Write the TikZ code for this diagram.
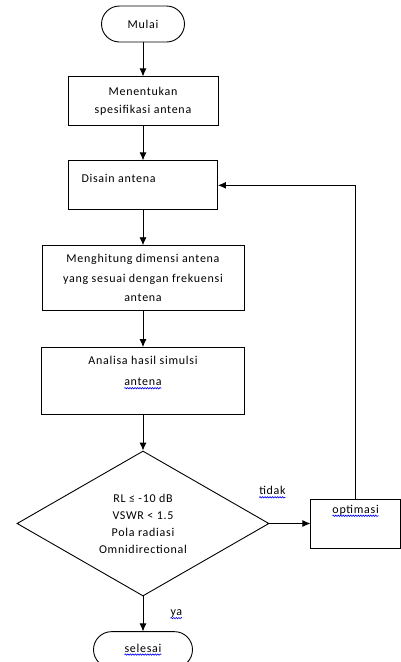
\documentclass[tikz,border=0pt]{standalone}
\usepackage{fontspec}
\setmainfont[LetterSpace=6]{Carlito}
\usetikzlibrary{shapes.geometric,positioning,decorations.pathmorphing,arrows.meta}
\newcommand\spell[1]{\tikz[baseline=(sp.base),sharp corners,-]{\node[shape=rectangle,draw=none,
 minimum width=0pt,minimum height=0pt,inner sep=0pt,outer sep=0pt] (sp) {#1};
 \draw[blue,line width=0.6pt,decorate,decoration={snake,amplitude=0.7pt,segment length=2.5pt}]
 ([yshift=-2.5pt]sp.base west) -- ([yshift=-2.5pt]sp.base east);}}

\begin{document}
\begin{tikzpicture}[x=1pt,y=1pt,line width=0.9pt,>={Latex[length=8pt,width=7pt]},
 every node/.style={font=\fontsize{12}{18}\selectfont},
 terminal/.style={draw,rounded corners=18pt,minimum width=83pt,minimum height=36pt,inner sep=0pt},
 process/.style={draw,align=center,inner sep=0pt},
 decision/.style={draw,diamond,aspect=1.74,minimum width=252pt,minimum height=145pt,
 inner sep=0pt,align=center,font=\fontsize{12}{17}\selectfont},
 lbl/.style={inner sep=1pt}]
 \useasboundingbox (0,0) rectangle (401,-662);

  \node[terminal] (mulai) at (143,-24) {Mulai};
  \node[process,minimum width=150pt,minimum height=49pt,below=34pt of mulai] (spesifikasi)
   {Menentukan\\spesifikasi antena};
  \node[process,minimum width=149pt,minimum height=49pt,below=34pt of spesifikasi] (disain)
   {\parbox[c][23pt][t]{123pt}{\raggedright Disain antena}};
  \node[process,minimum width=202pt,minimum height=65pt,below=35pt of disain,
   font=\fontsize{12}{19.5}\selectfont] (dimensi)
   {Menghitung dimensi antena\\yang sesuai dengan frekuensi\\antena};
  \node[process,minimum width=203pt,minimum height=67pt,below=36pt of dimensi,
   font=\fontsize{12}{21}\selectfont] (analisa)
   {\parbox[c][49pt][t]{203pt}{\centering Analisa hasil simulsi\\\spell{antena}}};
  \node[decision,below=36pt of analisa] (keputusan)
   {RL ≤ -10 dB\\VSWR < 1.5\\Pola radiasi\\Omnidirectional};
  \node[process,minimum width=90pt,minimum height=49pt,right=41pt of keputusan] (optimasi)
   {\parbox[c][37pt][t]{90pt}{\centering\spell{optimasi}}};
  \node[terminal,minimum width=99pt,below=35pt of keputusan] (selesai) {\spell{selesai}};

  \foreach \a/\b in {mulai/spesifikasi,spesifikasi/disain,disain/dimensi,dimensi/analisa,analisa/keputusan}
  {\draw[->] (\a) -- (\b);}

  \draw[->] (keputusan) -- (optimasi);
  \node[lbl,above=24pt of keputusan.east,xshift=3pt] (tidak) {\spell{tidak}};
  \draw[->] (optimasi.north) |- (disain.east);
  \draw[->] (keputusan) -- (selesai);
  \node[lbl,right=26pt of keputusan.south,yshift=-18pt] (ya) {\spell{ya}};
\end{tikzpicture}
\end{document}
